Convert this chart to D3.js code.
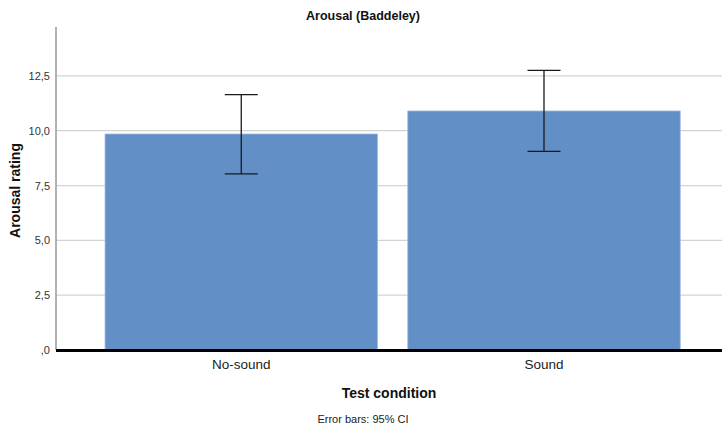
<!DOCTYPE html>
<html>
<head>
<meta charset="utf-8">
<script src="https://cdn.jsdelivr.net/npm/d3@7"></script>
<style>
  body { margin: 0; background: #fff; }
  svg { display: block; font-family: "Liberation Sans", Arial, sans-serif; }
</style>
</head>
<body>
<svg id="chart" width="722" height="428"></svg>
<script>
const categories = ["No-sound", "Sound"];
const means = [9.85, 10.9];
const ciLow = [8.03, 9.06];
const ciHigh = [11.65, 12.75];
const yTicks = [0, 2.5, 5, 7.5, 10, 12.5];
const yMax = 14.73;

const svg = d3.select("#chart");
const plot = { left: 56, right: 722, top: 27, bottom: 350 };

const x = d3.scaleBand()
  .domain(categories)
  .range([plot.left, plot.right])
  .paddingInner(0.1)
  .paddingOuter(0.15)
  .align(0.54);

const y = d3.scaleLinear()
  .domain([0, yMax])
  .range([plot.bottom, plot.top]);

const fmt = d3.formatLocale({ decimal: ",", thousands: ".", grouping: [3], currency: ["", ""] }).format(".1f");
const tickFmt = v => fmt(v).replace(/^0,/, ",");

// gridlines
svg.append("g")
  .selectAll("line")
  .data(yTicks.filter(d => d > 0))
  .enter().append("line")
  .attr("x1", plot.left).attr("x2", plot.right)
  .attr("y1", d => y(d)).attr("y2", d => y(d))
  .attr("stroke", "#d4d4d4")
  .attr("stroke-width", 1.2);

// y axis
const yAxis = svg.append("g")
  .attr("transform", `translate(${plot.left},0)`)
  .call(d3.axisLeft(y).tickValues(yTicks).tickFormat(tickFmt).tickSize(0).tickPadding(6));
yAxis.select(".domain").remove();
yAxis.selectAll("text")
  .attr("font-size", 11)
  .attr("fill", "#333")
  .attr("font-family", "Liberation Sans, Arial, sans-serif");

svg.append("line")
  .attr("x1", plot.left).attr("x2", plot.left)
  .attr("y1", plot.top).attr("y2", plot.bottom)
  .attr("stroke", "#999")
  .attr("stroke-width", 1.5);

// bars
svg.append("g")
  .selectAll("rect")
  .data(categories)
  .enter().append("rect")
  .attr("x", d => x(d))
  .attr("y", (d, i) => y(means[i]))
  .attr("width", x.bandwidth())
  .attr("height", (d, i) => y(0) - y(means[i]))
  .attr("fill", "#618fc6")
  .attr("stroke", "#9dbbe2")
  .attr("stroke-width", 0.8);

// error bars
const capW = 33;
const eb = svg.append("g").attr("stroke", "#1a1a1a").attr("stroke-width", 1.3);
categories.forEach((c, i) => {
  const cx = x(c) + x.bandwidth() / 2;
  eb.append("line").attr("x1", cx).attr("x2", cx).attr("y1", y(ciLow[i])).attr("y2", y(ciHigh[i]));
  eb.append("line").attr("x1", cx - capW / 2).attr("x2", cx + capW / 2).attr("y1", y(ciHigh[i])).attr("y2", y(ciHigh[i]));
  eb.append("line").attr("x1", cx - capW / 2).attr("x2", cx + capW / 2).attr("y1", y(ciLow[i])).attr("y2", y(ciLow[i]));
});

// x axis baseline
svg.append("line")
  .attr("x1", plot.left).attr("x2", plot.right)
  .attr("y1", y(0) + 0.5).attr("y2", y(0) + 0.5)
  .attr("stroke", "#000")
  .attr("stroke-width", 3);

const xAxis = svg.append("g")
  .attr("transform", `translate(0,${plot.bottom})`)
  .call(d3.axisBottom(x).tickSize(0).tickPadding(9));
xAxis.select(".domain").remove();
xAxis.selectAll("text")
  .attr("font-size", 13.5)
  .attr("fill", "#222")
  .attr("font-family", "Liberation Sans, Arial, sans-serif");

// titles
svg.append("text")
  .attr("x", 363).attr("y", 20)
  .attr("text-anchor", "middle")
  .attr("font-size", 12.5)
  .attr("font-weight", "bold")
  .attr("fill", "#111")
  .text("Arousal (Baddeley)");

svg.append("text")
  .attr("transform", `translate(20,${(plot.top + plot.bottom) / 2 + 2}) rotate(-90)`)
  .attr("text-anchor", "middle")
  .attr("font-size", 14)
  .attr("font-weight", "bold")
  .attr("fill", "#111")
  .text("Arousal rating");

svg.append("text")
  .attr("x", 389).attr("y", 398)
  .attr("text-anchor", "middle")
  .attr("font-size", 14)
  .attr("font-weight", "bold")
  .attr("fill", "#111")
  .text("Test condition");

svg.append("text")
  .attr("x", 363).attr("y", 423)
  .attr("text-anchor", "middle")
  .attr("font-size", 11)
  .attr("fill", "#222")
  .text("Error bars: 95% CI");
</script>
</body>
</html>
